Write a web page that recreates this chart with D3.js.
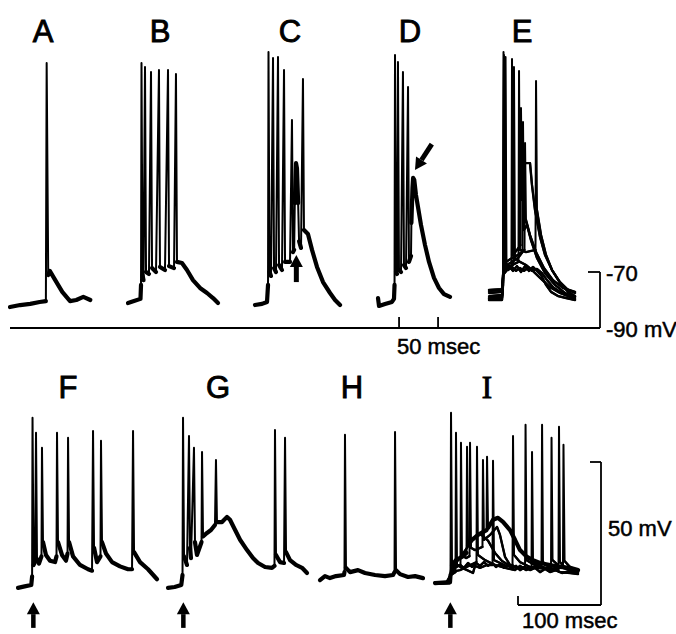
<!DOCTYPE html>
<meta charset="utf-8">
<script src="https://cdn.jsdelivr.net/npm/d3@7"></script>
<style>
  body { margin: 0; background: #fff; }
  text { font-family: "Liberation Sans", Arial, sans-serif; fill: #000; stroke: #000; stroke-width: 0.5; }
</style>
<div id="fig"></div>
<script>

// ---- sweeps: [msec from sweep start, mV] ----
// top row (A-E)
var traceA = [[0,-82.5],[13,-81.8],[26,-81.4],[38,-80.7],[46,-80.4],[47,4.6],[49,-71.1],[51,-69.6],[58,-72.9],[67,-77.1],[77,-80.4],[85,-80],[94,-78.9],[103,-80]];

var traceB = [[0,-81.1],[7.7,-80.4],[16,-79.6],[16.7,-74.6],[17.3,4.6],[18.6,-71.1],[19.9,-72.9],[21.8,3.2],[23.1,-70],[26.9,-70.7],[29.5,1.4],[30.8,-68.6],[35.9,-70],[39.7,2.1],[41,-68.2],[47.4,-69.3],[51.3,2.1],[52.6,-67.9],[59,-68.6],[61.5,0.7],[62.8,-66.4],[69.2,-66.8],[75.6,-69.3],[83.3,-72.9],[92.3,-75.7],[101.3,-77.5],[109,-79.3],[115.4,-81.1]];

var traceC = [[0,-81.8],[9,-81.4],[15.4,-80.7],[16.7,-74.6],[17.3,8.6],[18.6,-70],[20.5,-71.4],[23.1,6.4],[24.4,-68.6],[26.9,-70],[29.5,6.8],[30.8,-67.5],[34.6,-69.3],[37.2,2.1],[38.5,-66.4],[44.9,-66.4],[47.4,-15.7],[48.7,-62.9],[50.2,-62.1],[51,-45.4],[52.6,-31.1],[53.8,-33],[55.3,-45.4],[56.5,-59],[59,-61.4],[61.5,-1.1],[62.8,-55],[67.9,-56.4],[73.1,-62.1],[79.5,-68.2],[87.2,-73.6],[96.2,-77.5],[102.6,-80],[109,-81.8]];

var traceD = [[0,-79.3],[1.3,-82.1],[9,-81.4],[17.9,-80.7],[20.5,-79.6],[21.2,-74.6],[21.8,7.5],[23.1,-70],[24.4,-70.7],[25.6,5],[26.9,-69.3],[29.5,-70],[32,1.4],[33.3,-67.5],[35.9,-68.6],[38.5,-3.9],[39.7,-66.4],[42.3,-64.3],[42.8,-52.5],[44.2,-40],[45,-36.4],[46.5,-37.1],[48.7,-42.5],[51.3,-46.8],[55.1,-53.2],[60.3,-60.4],[65.4,-66.4],[71.8,-72.1],[78.2,-75.7],[84.6,-77.9],[92.3,-78.9]];

// E: superimposed sweeps
var traceE1 = [[0,-79.3],[7.7,-78.9],[16.7,-78.6],[17.9,-74.6],[18.6,8.6],[19.9,-68.6],[24.4,-69.3],[29.5,-68.2],[34.6,-69.6],[39.7,-68.6],[44.9,-69.6],[50,-68.6],[55.1,-69.6],[61.5,-68.9],[67.9,-70.4],[74.4,-72.9],[82,-75.4],[91,-77.1],[101.3,-78.2],[110.3,-78.9]];
var traceE2 = [[0,-77.5],[16.7,-77.1],[17.9,-72.9],[21.2,6.8],[22.4,-67.5],[26.9,-68.6],[31.4,-67.1],[32,3.2],[33.3,-65],[39.7,-66.4],[47.4,-67.5],[55.1,-69.3],[65.4,-72.1],[78.2,-75.4],[91,-77.5],[110.3,-79.6]];
var traceE3 = [[0,-76.4],[16.7,-76.1],[17.9,-71.1],[23.1,-69.3],[28.8,-67.9],[29.5,6.1],[30.8,-63.9],[35.9,-62.1],[40.4,-60.4],[41,-11.4],[42.3,-44.3],[44.2,-35.4],[46.2,-31.1],[52.6,-31.1],[55.1,-38.9],[59,-47.9],[65.4,-57.5],[71.8,-63.9],[80.8,-69.3],[91,-73.6],[101.3,-76.4],[110.3,-77.5]];
var traceE4 = [[0,-78.6],[16.7,-78.2],[17.9,-73.6],[19.2,7.5],[20.5,-68.6],[26.9,-67.9],[37.8,-66.4],[38.5,1.8],[39.7,-62.1],[47.4,-62.9],[59.6,-62.1],[60.3,-1.8],[61.5,-47.9],[66.7,-56.8],[73.1,-63.9],[80.8,-69.3],[91,-73.9],[101.3,-77.1],[110.3,-78.6]];
var traceE5 = [[0,-79.6],[16.7,-79.3],[17.9,-74.3],[19.2,5.7],[20.5,-67.9],[29.5,-66.4],[37.2,-65],[42.9,-62.9],[43.6,-16.4],[44.9,-55],[48.7,-53.2],[53.8,-58.6],[61.5,-65],[71.8,-70.4],[84.6,-74.6],[97.4,-77.5],[110.3,-78.9]];
var traceE6 = [[0,-76.8],[16.7,-76.4],[17.9,-72.1],[20.5,5],[21.8,-66.4],[29.5,-65],[37.2,-63.9],[45.5,-62.1],[46.2,-23.9],[47.4,-51.4],[52.6,-56.8],[60.3,-62.9],[70.5,-68.6],[82,-72.9],[94.9,-75.7],[110.3,-77.1]];
var traceE7 = [[0,-80],[16.7,-80],[17.9,-75],[19.2,-69.3],[25.6,-67.9],[30.8,-69.6],[35.9,-67.9],[41,-70],[46.2,-67.9],[51.3,-69.6],[56.4,-68.2],[61.5,-69.6],[66.7,-71.1],[73.1,-74.6],[79.5,-77.1],[88.5,-78.6],[98.7,-79.3],[110.3,-80]];

// bottom row (F-I)
var traceF = [[0,-74],[8,-73.5],[16,-73],[17,-70],[17.5,-14.5],[18.7,-66],[20.5,-65],[21.7,-19.8],[22.9,-64],[25.3,-65.5],[28.3,-63],[28.9,-25],[30.1,-58],[33.7,-62.5],[38.6,-64.5],[44.6,-65],[46.4,-63],[47,-19.8],[48.2,-58],[53,-62.5],[57.8,-64.5],[59.7,-62],[60.3,-21.5],[61.5,-58],[66.3,-63],[74.7,-66],[84.4,-67.5],[89.2,-68],[90.4,-19.2],[91.6,-60],[95.2,-65],[99.4,-63],[100,-22.6],[101.2,-58],[106,-62],[113.3,-65],[122.9,-66.5],[132.6,-67.5],[137.4,-67.5],[138.6,-19.2],[139.8,-61.5],[147,-65],[156.7,-67.5],[167.5,-71]];

var traceG = [[0,-74],[8,-73.7],[16,-73],[17.5,-69.5],[18.1,-14.5],[19.3,-63],[22.9,-66],[25.3,-20.9],[26.5,-60],[27.7,-63.6],[31.3,-25],[32.5,-58],[34.9,-62.5],[38,-60],[40.4,-58],[41,-26.5],[42.2,-56],[47,-54.8],[51.8,-53.8],[56.6,-52],[57.8,-29.3],[59,-51],[65.1,-51],[71.1,-49.2],[74.7,-50.2],[79.5,-53],[86.8,-57.2],[95.2,-60.8],[102.4,-63.6],[108.5,-65.3],[116.9,-66.7],[125.3,-67],[128.3,-66.3],[128.9,-18.8],[130.1,-62.5],[134.9,-65],[139.8,-65.3],[141,-21.5],[142.2,-61.5],[147,-64.3],[154.2,-66],[161.5,-67],[167.5,-68.8]];

var traceH = [[0,-71.3],[6,-69.9],[12,-70.6],[19.3,-69.9],[28.9,-69.5],[29.5,-68.5],[30.1,-20.5],[31.3,-67],[36.2,-68.5],[45.8,-67.8],[54.2,-68.8],[66.3,-69.5],[78.3,-69.9],[88,-69.5],[89.8,-68.5],[90.4,-19.5],[91.6,-67.8],[96.4,-69.2],[106,-70.2],[114.5,-69.9],[124.1,-70.6]];

// I: superimposed sweeps (I1 is the heavy one with the plateau)
var traceI1 = [[0,-72.3],[18.1,-72],[18.7,-69.5],[19.3,-12.8],[20.5,-66],[25.3,-64.3],[32.5,-63.2],[38,-61.8],[38.6,-24.7],[39.8,-59],[44.6,-57.2],[51.8,-55.5],[62.1,-53.8],[62.7,-28.2],[63.9,-53],[69.9,-50.2],[75.9,-49.5],[81.9,-50.9],[90.4,-53.8],[96.4,-57.2],[102.4,-60.8],[110.9,-63.2],[118.1,-64.3],[126.5,-65.3],[138.6,-66],[150.6,-66.7],[162.7,-67],[172.3,-67.8]];
var traceI2 = [[0,-72.3],[14,-72],[18.7,-69.5],[20.5,-67],[27.7,-66.3],[30.7,-66],[31.3,-23.3],[32.5,-62.5],[37.4,-63.6],[41.6,-62.9],[42.2,-23.3],[43.4,-60],[48.2,-60.8],[57.2,-59.7],[57.8,-29.3],[59,-57.2],[66.3,-55.5],[74.7,-52.7],[78.3,-55.5],[84.4,-63.2],[90.4,-66],[100,-67],[108.5,-66.7],[109.1,-17],[110.3,-64.3],[120,-66],[132,-67],[139.8,-66.7],[140.4,-21.5],[141.6,-64.3],[150.6,-66.7],[162.7,-67.8],[172.3,-68.5]];
var traceI3 = [[0,-72.7],[18.1,-72.3],[19.3,-69.5],[24.7,-68.5],[25.3,-19.8],[26.5,-66],[32.5,-67],[38.6,-67.8],[45.8,-68.8],[48.2,-66.3],[54.2,-67],[62.7,-66],[69.3,-66],[69.9,-29.6],[71.1,-64.3],[78.3,-65.3],[85.6,-66.3],[93.4,-66],[94,-20.9],[95.2,-62.5],[102.4,-65],[114.5,-66.7],[128.3,-67],[129,-17],[130.1,-65],[138.6,-67],[150.6,-68.5],[162.7,-68.8],[172.3,-69.2]];
var traceI4 = [[0,-72],[18.1,-72],[19.3,-68.5],[30.1,-67.8],[50,-65],[50.6,-24.7],[51.8,-62.5],[60.3,-64.3],[72.3,-66],[84.4,-67],[96.4,-67.8],[102.4,-66.3],[109.7,-67.8],[116.3,-67],[116.9,-26.5],[118.1,-65],[126.5,-66.3],[138.6,-67.8],[148.8,-67.4],[149.4,-17.7],[150.6,-65],[156.7,-67],[172.3,-68.1]];
var traceI5 = [[0,-72.3],[18.1,-72.3],[19.3,-67.8],[27.7,-64.3],[36.2,-61],[44.6,-57.5],[54.2,-55],[63.9,-57.5],[72.3,-61.8],[80.7,-64.6],[90.4,-66.3],[102.4,-67.4],[120.5,-67],[138.6,-67.4],[154.2,-66.7],[154.8,-24],[156.1,-64.6],[162.7,-66.7],[172.3,-68.1]];
var traceI6 = [[0,-72.3],[18.1,-72.3],[19.3,-68.5],[24.1,-67],[30.1,-66],[34.9,-67],[39.8,-65.3],[44.6,-66.7],[49.4,-65.3],[54.2,-66.3],[59,-65],[63.9,-66.3],[68.7,-65.3],[73.5,-66.7],[78.3,-65.7],[83.1,-67],[88,-66],[92.8,-67.4],[97.6,-66.3],[102.4,-67.8],[108.5,-66.7],[114.5,-67.8],[120.5,-67],[126.5,-68.5],[132.6,-67.4],[138.6,-68.5],[145.8,-67.8],[153,-68.8],[162.7,-68.1],[172.3,-68.8]];

// arrows: [msec at tip, mV at tip, msec at tail, mV at tail]
var arrowC = [53, -63.9, 53, -73.6];
var arrowD = [47.4, -33.6, 69, -24.3];
var arrowStim = [18.5, -79, 18.5, -88];   // bottom row, under stimulus onset

// calibration
var calTopMv = [-90, -70];
var calTopTicksMs = [27, 77];   // 50 msec apart, under D
var calBotMv = [-80, -30];      // 50 mV
var calBotMs = 100;

// ---- layout ----
var width = 676, height = 634;

var xTop = d3.scaleLinear().domain([0, 50]).range([0, 39]);
var yTop = d3.scaleLinear().domain([-90, -70]).range([328, 272]);
var xBot = d3.scaleLinear().domain([0, 100]).range([0, 83]);
var yBot = d3.scaleLinear().domain([-80, -30]).range([605, 462]);

var panels = [
  {label: "A", x0: 10,  lx: 43,  top: true,  sweeps: [traceA], thick: 4.2},
  {label: "B", x0: 128, lx: 160, top: true,  sweeps: [traceB], thick: 4.2},
  {label: "C", x0: 255, lx: 290, top: true,  sweeps: [traceC], thick: 4.2},
  {label: "D", x0: 378, lx: 410, top: true,  sweeps: [traceD], thick: 4.2},
  {label: "E", x0: 489, lx: 522, top: true,  sweeps: [traceE1, traceE2, traceE3, traceE4, traceE5, traceE6, traceE7], thick: 2.4},
  {label: "F", x0: 18,  lx: 68,  top: false, sweeps: [traceF], thick: 4.2},
  {label: "G", x0: 168, lx: 218, top: false, sweeps: [traceG], thick: 4.2},
  {label: "H", x0: 320, lx: 352, top: false, sweeps: [traceH], thick: 4.2},
  {label: "I", x0: 435, lx: 487, top: false, sweeps: [traceI2, traceI3, traceI4, traceI5, traceI6], thick: 2.4, heavy: traceI1}
];

var svg = d3.select("#fig").append("svg")
  .attr("width", width)
  .attr("height", height);

svg.append("rect").attr("width", width).attr("height", height).attr("fill", "#fff");

// draw one sweep: thin everywhere, slow parts drawn heavier like the pen trace
function drawSweep(g, pts, x, y, thick) {
  var line = d3.line().x(function(d) { return x(d[0]); }).y(function(d) { return y(d[1]); });
  g.append("path")
    .attr("d", line(pts))
    .attr("fill", "none")
    .attr("stroke", "#000")
    .attr("stroke-width", 2)
    .attr("stroke-linejoin", "round");

  var runs = [], cur = [];
  for (var i = 1; i < pts.length; i++) {
    var dx = Math.abs(x(pts[i][0]) - x(pts[i-1][0]));
    var dy = Math.abs(y(pts[i][1]) - y(pts[i-1][1]));
    if (dy <= 35 * dx + 3) {
      if (!cur.length) cur.push(pts[i-1]);
      cur.push(pts[i]);
    } else {
      if (cur.length) runs.push(cur);
      cur = [];
    }
  }
  if (cur.length) runs.push(cur);
  runs.forEach(function(r) {
    g.append("path")
      .attr("d", line(r))
      .attr("fill", "none")
      .attr("stroke", "#000")
      .attr("stroke-width", thick)
      .attr("stroke-linecap", "round")
      .attr("stroke-linejoin", "round");
  });
}

function drawArrow(g, x1, y1, x2, y2, w) {
  // tip at (x1,y1), tail at (x2,y2)
  var ang = Math.atan2(y1 - y2, x1 - x2);
  var hl = 12, hw = 6.5;
  var bx = x1 - hl * Math.cos(ang), by = y1 - hl * Math.sin(ang);
  g.append("line")
    .attr("x1", x2).attr("y1", y2).attr("x2", bx).attr("y2", by)
    .attr("stroke", "#000").attr("stroke-width", w);
  var px = -Math.sin(ang) * hw, py = Math.cos(ang) * hw;
  g.append("path")
    .attr("d", "M" + x1 + "," + y1 + "L" + (bx + px) + "," + (by + py) + "L" + (bx - px) + "," + (by - py) + "Z")
    .attr("fill", "#000");
}

panels.forEach(function(p) {
  var x = p.top ? xTop : xBot, y = p.top ? yTop : yBot;
  var g = svg.append("g").attr("transform", "translate(" + p.x0 + ",0)");
  if (p.heavy) drawSweep(g, p.heavy, x, y, 4.2);
  p.sweeps.forEach(function(s) { drawSweep(g, s, x, y, p.thick); });

  var lab = svg.append("text")
    .attr("x", p.lx)
    .attr("y", p.top ? 42 : 398)
    .attr("text-anchor", "middle")
    .attr("font-size", 31)
    .style("stroke-width", 0.9)
    .text(p.label);
  if (p.label === "I") lab.style("font-family", "'Liberation Serif', serif");

  if (p.label === "C") drawArrow(g, x(arrowC[0]), y(arrowC[1]), x(arrowC[2]), y(arrowC[3]), 5);
  if (p.label === "D") drawArrow(g, x(arrowD[0]), y(arrowD[1]), x(arrowD[2]), y(arrowD[3]), 5);
  if (p.label === "F" || p.label === "G" || p.label === "I")
    drawArrow(g, x(arrowStim[0]), y(arrowStim[1]), x(arrowStim[2]), y(arrowStim[3]), 4.5);
});

// top calibration: -90 mV baseline with 50 msec ticks, -70 bracket
var cal = svg.append("g").attr("stroke", "#000").attr("stroke-width", 1.8).attr("fill", "none");
var bx = 600;
cal.append("line").attr("x1", 10).attr("x2", bx).attr("y1", yTop(calTopMv[0])).attr("y2", yTop(calTopMv[0]));
cal.append("line").attr("x1", bx).attr("x2", bx).attr("y1", yTop(calTopMv[0])).attr("y2", yTop(calTopMv[1]));
cal.append("line").attr("x1", bx - 12).attr("x2", bx).attr("y1", yTop(calTopMv[1])).attr("y2", yTop(calTopMv[1]));
calTopTicksMs.forEach(function(t) {
  var xx = 378 + xTop(t);
  cal.append("line").attr("x1", xx).attr("x2", xx).attr("y1", yTop(calTopMv[0])).attr("y2", yTop(calTopMv[0]) - 11);
});

svg.append("text").attr("x", 606).attr("y", yTop(calTopMv[1]) + 9).attr("font-size", 22).text("-70");
svg.append("text").attr("x", 606).attr("y", yTop(calTopMv[0]) + 9).attr("font-size", 22).text("-90 mV");
svg.append("text").attr("x", 397).attr("y", 354).attr("font-size", 22).text("50 msec");

// bottom calibration: 50 mV / 100 msec
var bx2 = 601;
cal.append("line").attr("x1", bx2).attr("x2", bx2).attr("y1", yBot(calBotMv[0])).attr("y2", yBot(calBotMv[1]));
cal.append("line").attr("x1", bx2 - 11).attr("x2", bx2).attr("y1", yBot(calBotMv[1])).attr("y2", yBot(calBotMv[1]));
cal.append("line").attr("x1", bx2 - xBot(calBotMs)).attr("x2", bx2).attr("y1", yBot(calBotMv[0])).attr("y2", yBot(calBotMv[0]));
cal.append("line").attr("x1", bx2 - xBot(calBotMs)).attr("x2", bx2 - xBot(calBotMs)).attr("y1", yBot(calBotMv[0])).attr("y2", yBot(calBotMv[0]) - 9);

svg.append("text").attr("x", 608).attr("y", 536).attr("font-size", 22).text("50 mV");
svg.append("text").attr("x", 522).attr("y", 628).attr("font-size", 22).text("100 msec");

</script>
